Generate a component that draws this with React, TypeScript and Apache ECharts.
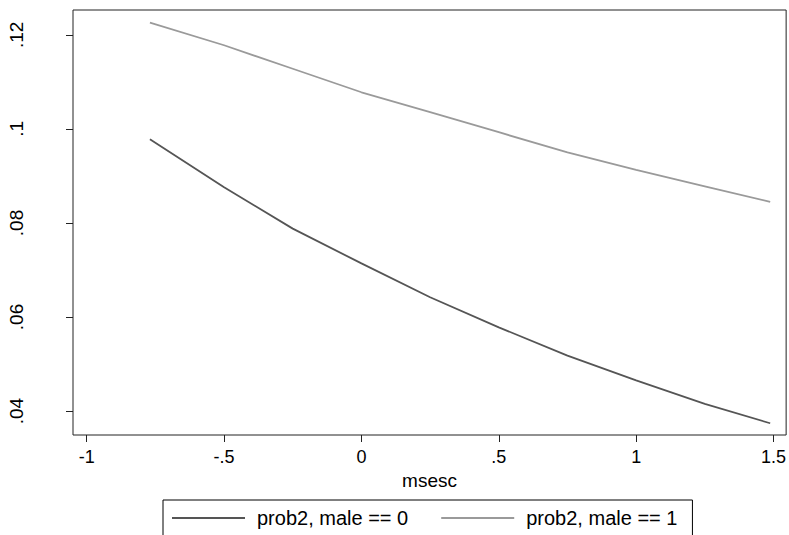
import React, { useEffect, useRef } from "react";
import * as echarts from "echarts";

// x values (msesc) at which the curves were read
const msesc = [-0.77, -0.5, -0.25, 0, 0.25, 0.5, 0.75, 1, 1.25, 1.488];
// prob2, male == 0 (dark line)
const prob2Male0 = [0.0978, 0.0876, 0.0788, 0.0714, 0.0642, 0.0578, 0.0518, 0.0465, 0.0415, 0.0374];
// prob2, male == 1 (light line)
const prob2Male1 = [0.1226, 0.1178, 0.1128, 0.1078, 0.1036, 0.0993, 0.095, 0.0913, 0.0878, 0.0845];

const xTicks = [-1, -0.5, 0, 0.5, 1, 1.5];
const xTickLabels = ["-1", "-.5", "0", ".5", "1", "1.5"];
const yTicks = [0.04, 0.06, 0.08, 0.1, 0.12];
const yTickLabels = [".04", ".06", ".08", ".1", ".12"];

const seriesNames = ["prob2, male == 0", "prob2, male == 1"];

const FONT = "'Liberation Sans', Arial, sans-serif";

function lookup(ticks: number[], labels: string[], v: number): string {
  const i = ticks.findIndex((t) => Math.abs(t - v) < 1e-9);
  return i >= 0 ? labels[i] : "";
}

export default function App() {
  const ref = useRef<HTMLDivElement>(null);
  useEffect(() => {
    if (!ref.current) return;
    const chart = echarts.init(ref.current, undefined, { renderer: "svg" });
    chart.setOption({
      animation: false,
      backgroundColor: "#fff",
      grid: {
        left: 73,
        right: 2,
        top: 10,
        bottom: 100,
        show: true,
        borderColor: "#222",
        borderWidth: 1,
        containLabel: false,
      },
      xAxis: {
        type: "value",
        min: -1.05,
        max: 1.546,
        name: "msesc",
        nameLocation: "middle",
        nameGap: 32,
        nameTextStyle: { fontFamily: FONT, fontSize: 19, color: "#000" },
        axisLine: { show: false, onZero: false },
        splitLine: { show: false },
        axisTick: {
          show: true,
          length: 7,
          customValues: xTicks,
          lineStyle: { color: "#222" },
        },
        axisLabel: {
          customValues: xTicks,
          margin: 13,
          fontFamily: FONT,
          fontSize: 18,
          color: "#000",
          formatter: (v: number) => lookup(xTicks, xTickLabels, v),
        },
      },
      yAxis: {
        type: "value",
        min: 0.0349,
        max: 0.1253,
        axisLine: { show: false, onZero: false },
        splitLine: { show: false },
        axisTick: {
          show: true,
          length: 7,
          customValues: yTicks,
          lineStyle: { color: "#222" },
        },
        axisLabel: {
          customValues: yTicks,
          rotate: 90,
          margin: 47,
          fontFamily: FONT,
          fontSize: 19,
          color: "#000",
          formatter: (v: number) => lookup(yTicks, yTickLabels, v),
        },
      },
      legend: {
        data: seriesNames,
        left: 163,
        top: 500,
        orient: "horizontal",
        icon: "rect",
        itemWidth: 73,
        itemHeight: 2,
        itemGap: 33,
        padding: [8, 15, 8, 9],
        borderColor: "#000",
        borderWidth: 1,
        textStyle: { fontFamily: FONT, fontSize: 20, color: "#000", padding: [0, 0, 0, 7] },
      },
      series: [
        {
          name: seriesNames[0],
          type: "line",
          data: msesc.map((x, i) => [x, prob2Male0[i]]),
          symbol: "none",
          smooth: false,
          lineStyle: { color: "#555555", width: 1.8 },
          itemStyle: { color: "#555555" },
        },
        {
          name: seriesNames[1],
          type: "line",
          data: msesc.map((x, i) => [x, prob2Male1[i]]),
          symbol: "none",
          smooth: false,
          lineStyle: { color: "#9a9a9a", width: 1.8 },
          itemStyle: { color: "#9a9a9a" },
        },
      ],
    });
    return () => chart.dispose();
  }, []);
  return (
    <div
      ref={ref}
      style={{ position: "fixed", left: 0, top: 0, width: 789, height: 535, background: "#fff" }}
    />
  );
}
